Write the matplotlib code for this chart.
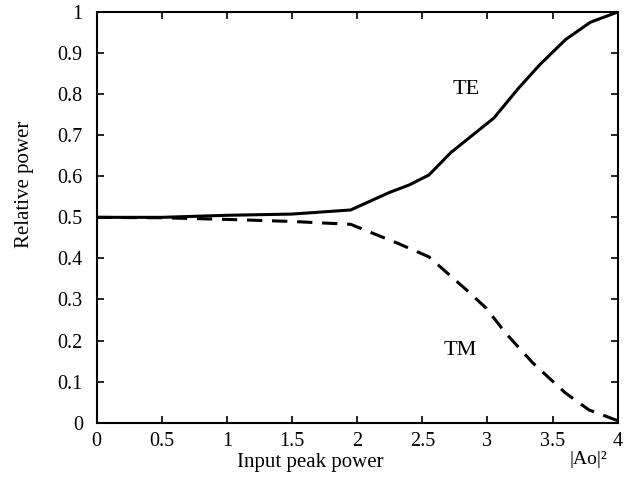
import matplotlib
matplotlib.use("Agg")
import matplotlib.pyplot as plt

plt.rcParams['font.family'] = ['Liberation Serif', 'DejaVu Serif']

te_x = [0, 0.5, 1.0, 1.5, 1.95, 2.25, 2.4, 2.55, 2.72, 3.05, 3.24, 3.40, 3.60, 3.79, 4.0]
te_y = [0.5, 0.5, 0.505, 0.508, 0.518, 0.561, 0.579, 0.603, 0.658, 0.742, 0.815, 0.871, 0.933, 0.975, 1.0]
tm_x = [0, 0.5, 1.0, 1.5, 1.95, 2.31, 2.55, 2.84, 2.99, 3.14, 3.35, 3.60, 3.78, 4.0]
tm_y = [0.5, 0.499, 0.495, 0.490, 0.483, 0.437, 0.404, 0.323, 0.279, 0.218, 0.145, 0.072, 0.031, 0.005]

xticks = [0, 0.5, 1, 1.5, 2, 2.5, 3, 3.5, 4]
xticklabels = ['0', '0.5', '1', '1.5', '2', '2.5', '3', '3.5', '4']
yticks = [0, 0.1, 0.2, 0.3, 0.4, 0.5, 0.6, 0.7, 0.8, 0.9, 1]
yticklabels = ['0', '0.1', '0.2', '0.3', '0.4', '0.5', '0.6', '0.7', '0.8', '0.9', '1']

fig = plt.figure(figsize=(6.41, 4.78), dpi=100)
ax = fig.add_axes([96.7/641, 1 - 422.7/478, (617.7-96.7)/641, (422.7-12)/478])

ax.plot(te_x, te_y, color='black', lw=2.2, solid_joinstyle='round')
ax.plot(tm_x, tm_y, color='black', lw=2.2, linestyle=(0, (5.0, 3.2)))

ax.set_xlim(0, 4)
ax.set_ylim(0, 1)
ax.set_xticks(xticks)
ax.set_xticklabels(xticklabels)
ax.set_yticks(yticks)
ax.set_yticklabels(yticklabels)
ax.tick_params(direction='in', top=True, right=True, length=5, width=1.2,
               labelsize=14.5)
ax.tick_params(axis='x', pad=7)
ax.tick_params(axis='y', pad=10)
for s in ax.spines.values():
    s.set_linewidth(1.5)

fig.text(25/641, 1 - 184/478, 'Relative power', fontsize=15, rotation=90,
         ha='center', va='center')
fig.text(310/641, 1 - 462/478, 'Input peak power', fontsize=15, ha='center', va='center')
fig.text(588/641, 1 - 459/478, '|Ao|²', fontsize=14, ha='center', va='center')

ax.text(2.84, 0.811, 'TE', fontsize=16, ha='center', va='center')
ax.text(2.79, 0.177, 'TM', fontsize=16, ha='center', va='center')

fig.savefig('out.png', dpi=100)
